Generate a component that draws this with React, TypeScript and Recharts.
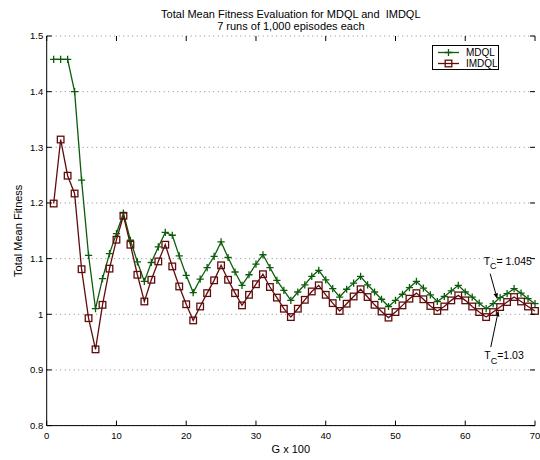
import { LineChart, Line, XAxis, YAxis, CartesianGrid, Legend, Label, ReferenceLine } from 'recharts'

const GENS = [
  1, 2, 3, 4, 5, 6, 7, 8, 9, 10, 11, 12, 13, 14, 15, 16, 17, 18, 19, 20,
  21, 22, 23, 24, 25, 26, 27, 28, 29, 30, 31, 32, 33, 34, 35, 36, 37, 38, 39, 40,
  41, 42, 43, 44, 45, 46, 47, 48, 49, 50, 51, 52, 53, 54, 55, 56, 57, 58, 59, 60,
  61, 62, 63, 64, 65, 66, 67, 68, 69, 70,
]

const MDQL = [
  1.458, 1.458, 1.458, 1.4, 1.241, 1.106, 1.01, 1.064, 1.109, 1.145,
  1.182, 1.133, 1.094, 1.059, 1.093, 1.121, 1.147, 1.142, 1.105, 1.07,
  1.039, 1.063, 1.084, 1.104, 1.13, 1.102, 1.076, 1.052, 1.071, 1.09,
  1.107, 1.084, 1.061, 1.043, 1.025, 1.04, 1.053, 1.068, 1.079, 1.062,
  1.046, 1.031, 1.045, 1.056, 1.068, 1.053, 1.04, 1.027, 1.014, 1.025,
  1.036, 1.048, 1.059, 1.047, 1.035, 1.023, 1.032, 1.042, 1.052, 1.04,
  1.031, 1.02, 1.01, 1.019, 1.03, 1.037, 1.046, 1.038, 1.028, 1.019,
]

const IMDQL = [
  1.199, 1.314, 1.249, 1.217, 1.081, 0.993, 0.937, 1.017, 1.082, 1.134,
  1.177, 1.125, 1.071, 1.023, 1.062, 1.095, 1.125, 1.086, 1.05, 1.018,
  0.989, 1.014, 1.038, 1.061, 1.088, 1.062, 1.038, 1.016, 1.035, 1.054,
  1.072, 1.049, 1.03, 1.01, 0.995, 1.01, 1.026, 1.041, 1.052, 1.035,
  1.02, 1.006, 1.019, 1.032, 1.045, 1.031, 1.017, 1.005, 0.994, 1.004,
  1.016, 1.028, 1.038, 1.027, 1.015, 1.006, 1.014, 1.025, 1.034, 1.025,
  1.014, 1.004, 0.995, 1.004, 1.013, 1.022, 1.031, 1.023, 1.014, 1.006,
]

const X_TICKS = [0, 10, 20, 30, 40, 50, 60, 70]
const Y_TICKS = [0.8, 0.9, 1, 1.1, 1.2, 1.3, 1.4, 1.5]

// annotation arrows, in data units: [g, fitness]
const TC_HIGH = { text: '= 1.045', from: [63.57, 1.073], to: [64.6, 1.027] }
const TC_LOW = { text: '=1.03', from: [63.66, 0.941], to: [64.76, 1.007] }

const GREEN = '#0b5d0b'
const MAROON = '#600c0c'
const FONT = "'Liberation Sans', Arial, sans-serif"

const W = 540
const H = 460
const TOP = 36
const LEFT = 46.7
const RIGHT = 5
const X_AXIS_H = 34.4
const BOTTOM = H - X_AXIS_H

const data = GENS.map((g, i) => ({ g, mdql: MDQL[i], imdql: IMDQL[i] }))

function PlusDot(props: any) {
  const { cx, cy, index } = props
  if (cx == null || cy == null) return <g key={index} />
  const s = 3.6
  return (
    <path
      key={index}
      d={`M${cx - s},${cy}H${cx + s}M${cx},${cy - s}V${cy + s}`}
      stroke={GREEN}
      strokeWidth={1.3}
      fill="none"
    />
  )
}

function SquareDot(props: any) {
  const { cx, cy, index } = props
  if (cx == null || cy == null) return <g key={index} />
  const s = 3.3
  return (
    <rect
      key={index}
      x={cx - s}
      y={cy - s}
      width={s * 2}
      height={s * 2}
      stroke={MAROON}
      strokeWidth={1.3}
      fill="none"
    />
  )
}

function XTick(props: any) {
  const { x, payload } = props
  return (
    <g>
      <line x1={x} x2={x} y1={BOTTOM} y2={BOTTOM - 5} stroke="#000" />
      <line x1={x} x2={x} y1={TOP} y2={TOP + 5} stroke="#000" />
      <text x={x} y={BOTTOM + 13.5} textAnchor="middle" fontSize={9.5} fontFamily={FONT} fill="#000">
        {payload.value}
      </text>
    </g>
  )
}

function YTick(props: any) {
  const { y, payload } = props
  return (
    <g>
      <line x1={LEFT} x2={LEFT + 5} y1={y} y2={y} stroke="#000" />
      <line x1={W - RIGHT} x2={W - RIGHT - 5} y1={y} y2={y} stroke="#000" />
      <text x={LEFT - 3.5} y={y + 3.4} textAnchor="end" fontSize={9.5} fontFamily={FONT} fill="#000">
        {payload.value}
      </text>
    </g>
  )
}

function arrowShape(note: typeof TC_HIGH, below: boolean) {
  return (props: any) => {
    const { x1, y1, x2, y2 } = props
    const dx = x2 - x1
    const dy = y2 - y1
    const len = Math.sqrt(dx * dx + dy * dy)
    const ux = dx / len
    const uy = dy / len
    const hl = 6
    const hw = 2.2
    const bx = x2 - ux * hl
    const by = y2 - uy * hl
    const head = `${x2},${y2} ${bx - uy * hw},${by + ux * hw} ${bx + uy * hw},${by - ux * hw}`
    const tx = x1 - 6.5
    const ty = below ? y1 + 12 : y1 - 9
    return (
      <g>
        <line x1={x1} y1={y1} x2={bx} y2={by} stroke="#000" strokeWidth={1} />
        <polygon points={head} fill="#000" />
        <text x={tx} y={ty} fontSize={10.5} fontFamily={FONT} fill="#000">
          T
          <tspan dy={4.5} fontSize={9}>C</tspan>
          <tspan dy={-4.5}>{note.text}</tspan>
        </text>
      </g>
    )
  }
}

function LegendBox() {
  const rows = [
    { name: 'MDQL', color: GREEN, square: false },
    { name: 'IMDQL', color: MAROON, square: true },
  ]
  return (
    <div
      style={{
        border: '1px solid #000',
        background: '#fff',
        width: 67,
        height: 25,
        fontFamily: FONT,
        fontSize: 10,
        padding: '1px 0',
        boxSizing: 'border-box',
      }}
    >
      {rows.map((r) => (
        <div key={r.name} style={{ display: 'flex', alignItems: 'center', height: 11 }}>
          <svg width={30} height={11} style={{ display: 'block' }}>
            <line x1={5} x2={26} y1={5.5} y2={5.5} stroke={r.color} strokeWidth={1.3} />
            {r.square ? (
              <rect x={12.2} y={2.2} width={6.6} height={6.6} stroke={r.color} strokeWidth={1.3} fill="none" />
            ) : (
              <path d="M11.9,5.5H19.1M15.5,1.9V9.1" stroke={r.color} strokeWidth={1.3} />
            )}
          </svg>
          <span style={{ marginLeft: 3, lineHeight: '11px' }}>{r.name}</span>
        </div>
      ))}
    </div>
  )
}

export default function App() {
  return (
    <div style={{ position: 'absolute', left: 0, top: 0, width: W, height: H, background: '#fff', fontFamily: FONT }}>
      <div
        style={{
          position: 'absolute',
          left: LEFT,
          width: W - RIGHT - LEFT,
          top: 7.6,
          textAlign: 'center',
          fontSize: 11,
          lineHeight: '12px',
          whiteSpace: 'pre',
          color: '#000',
        }}
      >
        {'Total Mean Fitness Evaluation for MDQL and  IMDQL\n7 runs of 1,000 episodes each'}
      </div>
      <LineChart width={W} height={H} data={data} margin={{ top: TOP, right: RIGHT, bottom: 0, left: 0 }}>
        <CartesianGrid
          xAxisId="b"
          yAxisId="l"
          vertical={false}
          stroke="#8a8a8a"
          strokeDasharray="1 3.5"
        />
        <XAxis
          xAxisId="b"
          dataKey="g"
          type="number"
          domain={[0, 70]}
          ticks={X_TICKS}
          interval={0}
          height={X_AXIS_H}
          tickLine={false}
          axisLine={{ stroke: '#000' }}
          tick={XTick}
        >
          <Label
            content={(p: any) => (
              <text x={p.viewBox.x + p.viewBox.width / 2} y={452.5} textAnchor="middle" fontSize={11} fontFamily={FONT} fill="#000">
                G x 100
              </text>
            )}
          />
        </XAxis>
        <XAxis
          xAxisId="t"
          orientation="top"
          type="number"
          domain={[0, 70]}
          height={0}
          tick={false}
          tickLine={false}
          axisLine={{ stroke: '#000' }}
        />
        <YAxis
          yAxisId="l"
          type="number"
          domain={[0.8, 1.5]}
          ticks={Y_TICKS}
          interval={0}
          width={LEFT}
          tickLine={false}
          axisLine={{ stroke: '#000' }}
          tick={YTick}
        >
          <Label
            content={(p: any) => {
              const cx = 22.5
              const cy = p.viewBox.y + p.viewBox.height / 2
              return (
                <text
                  x={cx}
                  y={cy}
                  transform={`rotate(-90 ${cx} ${cy})`}
                  textAnchor="middle"
                  fontSize={11}
                  fontFamily={FONT}
                  fill="#000"
                >
                  Total Mean Fitness
                </text>
              )
            }}
          />
        </YAxis>
        <YAxis
          yAxisId="r"
          orientation="right"
          type="number"
          domain={[0.8, 1.5]}
          width={0}
          tick={false}
          tickLine={false}
          axisLine={{ stroke: '#000' }}
        />
        <Legend
          layout="vertical"
          align="center"
          verticalAlign="middle"
          wrapperStyle={{ left: 432, top: 45, width: 67, height: 25 }}
          content={() => <LegendBox />}
        />
        <Line
          xAxisId="b"
          yAxisId="l"
          type="linear"
          dataKey="mdql"
          name="MDQL"
          stroke={GREEN}
          strokeWidth={1.3}
          dot={PlusDot}
          activeDot={false}
          isAnimationActive={false}
        />
        <Line
          xAxisId="b"
          yAxisId="l"
          type="linear"
          dataKey="imdql"
          name="IMDQL"
          stroke={MAROON}
          strokeWidth={1.3}
          dot={SquareDot}
          activeDot={false}
          isAnimationActive={false}
        />
        <ReferenceLine
          xAxisId="b"
          yAxisId="l"
          segment={[
            { x: TC_HIGH.from[0], y: TC_HIGH.from[1] },
            { x: TC_HIGH.to[0], y: TC_HIGH.to[1] },
          ]}
          shape={arrowShape(TC_HIGH, false)}
        />
        <ReferenceLine
          xAxisId="b"
          yAxisId="l"
          segment={[
            { x: TC_LOW.from[0], y: TC_LOW.from[1] },
            { x: TC_LOW.to[0], y: TC_LOW.to[1] },
          ]}
          shape={arrowShape(TC_LOW, true)}
        />
      </LineChart>
    </div>
  )
}
